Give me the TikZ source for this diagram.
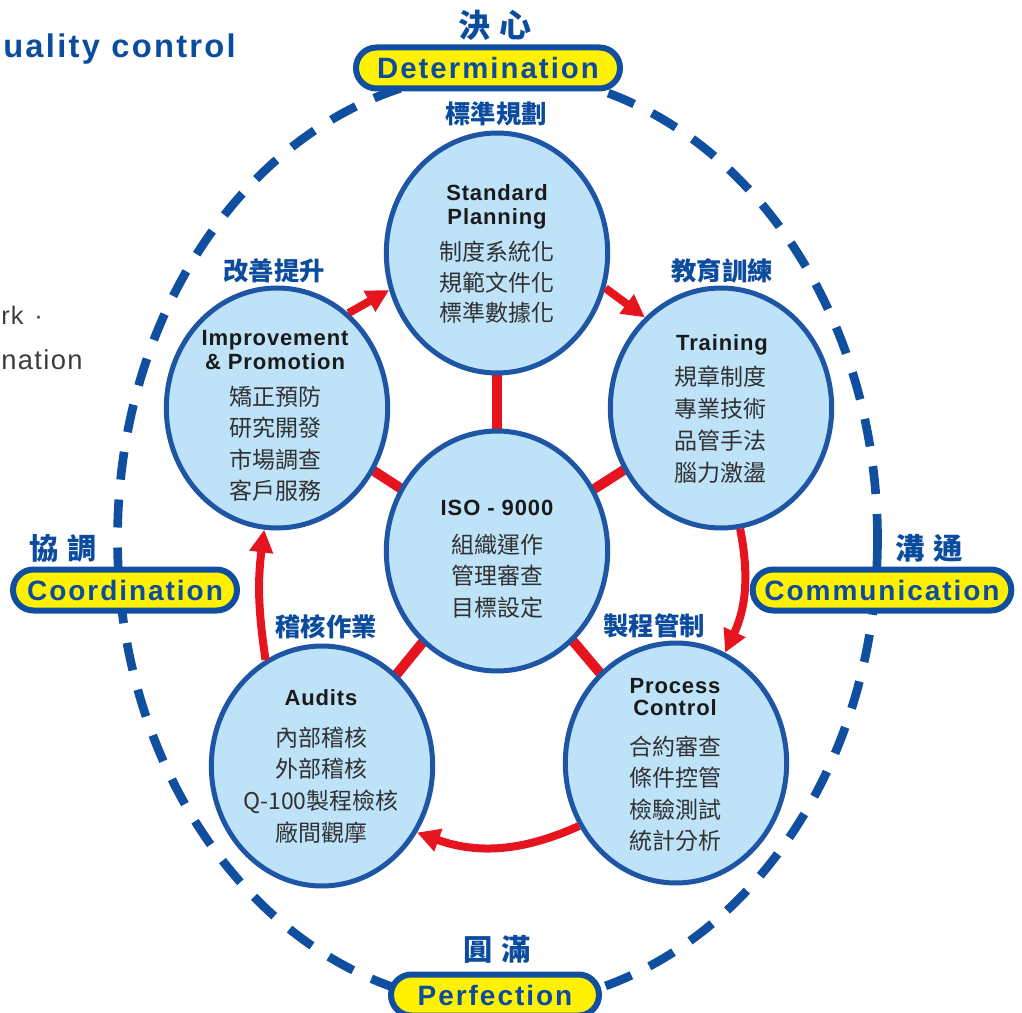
\documentclass[tikz,border=0pt]{standalone}
\usepackage{fontspec}
\setmainfont{Liberation Sans}
\newfontfamily\lsLab[LetterSpace=7]{Liberation Sans}
\newfontfamily\lsTit[LetterSpace=4]{Liberation Sans}
\newfontfamily\lsTop[LetterSpace=7]{Liberation Sans}
\newfontfamily\lsGray[LetterSpace=5]{Liberation Sans}
\newfontfamily\cjk{Noto Sans CJK TC}
\usetikzlibrary{arrows.meta,shapes.geometric,shapes.misc,backgrounds}
\definecolor{cfill}{RGB}{190,226,248}
\definecolor{cblue}{RGB}{31,85,165}
\definecolor{cred}{RGB}{230,20,30}
\definecolor{dblue}{RGB}{16,78,160}
\definecolor{lblue}{RGB}{12,76,158}
\definecolor{cyel}{RGB}{255,241,0}
\definecolor{ctext}{RGB}{26,26,26}
\definecolor{cgray}{RGB}{60,60,60}
\tikzset{
  circ/.style={ellipse, draw=cblue, line width=3.75pt, fill=cfill,
    minimum width=166pt, minimum height=180pt, inner sep=0pt},
  rline/.style={draw=cred, line width=7.5pt},
  rarr/.style={draw=cred, line width=6pt, -{Triangle[length=17pt,width=17pt]}},
  dashring/.style={draw=dblue, line width=6.5pt, dash pattern=on 21pt off 15pt},
  lbox/.style={rounded rectangle, draw=dblue, line width=4.5pt, fill=cyel,
    minimum height=30.75pt, inner sep=0pt, text=lblue,
    font=\lsLab\bfseries\fontsize{21}{21}\selectfont},
  en/.style={inner sep=0pt, text=ctext, text height=11.8pt, text depth=0pt,
    font=\lsTit\bfseries\fontsize{16.5}{16.5}\selectfont},
  cj/.style={inner sep=0pt, text=ctext!90, text height=13pt, text depth=0pt,
    font=\cjk\fontsize{17.25}{17.25}\selectfont},
  hd/.style={inner sep=0pt, text=lblue, text height=14.4pt, text depth=0pt,
    font=\cjk\bfseries\fontsize{19}{19}\selectfont},
  hdbig/.style={inner sep=0pt, text=lblue, text height=16.7pt, text depth=0pt,
    font=\cjk\bfseries\fontsize{22}{22}\selectfont},
}
\begin{document}
\begin{tikzpicture}[x=0.75pt,y=-0.75pt]
\useasboundingbox (0,0) rectangle (1022,1013);
\clip (0,0) rectangle (1022,1013);

% outer dashed ring
\draw[dashring] (497.5,539) ellipse [x radius=380, y radius=466];

% circles
\node[circ] (sp)  at (497,253) {};
\node[circ] (tr)  at (721,408) {};
\node[circ] (imp) at (277,408) {};
\node[circ] (iso) at (497,551) {};
\node[circ] (au)  at (322,766) {};
\node[circ] (pc)  at (676,763) {};

% radial red links
\begin{scope}[on background layer]
  \draw[rline] (iso.center) -- (sp.center);
  \draw[rline] (iso.center) -- (tr.center);
  \draw[rline] (iso.center) -- (imp.center);
  \draw[rline] (iso.center) -- (au.center);
  \draw[rline] (iso.center) -- (pc.center);
\end{scope}

% cycle arrows
\draw[rarr] (imp.53) -- (sp.199);
\draw[rarr] (sp.342) -- (tr.130);
\draw[rarr] (tr.279) to[bend left=18] (pc.66);
\draw[rarr] (pc.213) to[bend left=22] (au.325);
\draw[rarr] (au.118) to[bend left=8] (imp.264);

% circle texts
\node[en] (spa) at (497,193) {Standard};
\node[en] (spb) at (497,217) {Planning};
\node[cj] (spc) at (497,252) {制度系統化};
\node[cj] (spd) at (497,283) {規範文件化};
\node[cj] (spe) at (497,313) {標準數據化};

\node[en] (tra) at (722,343) {Training};
\node[cj] (trb) at (720,377) {規章制度};
\node[cj] (trc) at (720,409) {專業技術};
\node[cj] (trd) at (720,441) {品管手法};
\node[cj] (tre) at (720,473) {腦力激盪};

\node[en] (ima) at (275,338) {Improvement};
\node[en] (imb) at (275,362) {\& Promotion};
\node[cj] (imc) at (275,397) {矯正預防};
\node[cj] (imd) at (275,428) {研究開發};
\node[cj] (ime) at (275,460) {市場調查};
\node[cj] (imf) at (275,491) {客戶服務};

\node[en] (isa) at (497,508) {ISO - 9000};
\node[cj] (isb) at (497,545) {組織運作};
\node[cj] (isc) at (497,576) {管理審查};
\node[cj] (isd) at (497,608) {目標設定};

\node[en] (aua) at (321,698) {Audits};
\node[cj] (aub) at (321,738) {內部稽核};
\node[cj] (auc) at (321,769) {外部稽核};
\node[cj] (aud) at (321,801) {Q-100製程檢核};
\node[cj] (aue) at (321,833) {廠間觀摩};

\node[en] (pca) at (675,686) {Process};
\node[en] (pcb) at (675,708) {Control};
\node[cj] (pcc) at (675,747) {合約審查};
\node[cj] (pcd) at (675,778) {條件控管};
\node[cj] (pce) at (675,810) {檢驗測試};
\node[cj] (pcf) at (675,841) {統計分析};

% headings
\node[hd] (h1) at (496,114) {標準規劃};
\node[hd] (h2) at (274,271) {改善提升};
\node[hd] (h3) at (722,271) {教育訓練};
\node[hd] (h4) at (326,627) {稽核作業};
\node[hd] (h5) at (654,626) {製程管制};
\node[hdbig,font=\cjk\bfseries\fontsize{24}{24}\selectfont,text height=18.2pt] (g1) at (495,25) {決\kern7pt 心};
\node[hdbig] (g2) at (63,548) {協\kern7pt 調};
\node[hdbig] (g3) at (929,548) {溝\kern7pt 通};
\node[hdbig] (g4) at (497,949) {圓\kern7pt 滿};

% label boxes
\node[lbox, minimum width=198pt, font=\lsLab\bfseries\fontsize{22}{22}\selectfont] (det) at (488,68) {Determination};
\node[lbox, minimum width=168pt] (coo) at (125,590) {Coordination};
\node[lbox, minimum width=194pt] (com) at (882,590) {Communication};
\node[lbox, minimum width=156pt] (per) at (495,995) {Perfection};

% cropped fragments of surrounding text
\node[anchor=base west, inner sep=0pt, text=lblue,
  font=\lsTop\bfseries\fontsize{24.5}{24.5}\selectfont] (frag1) at (3,58) {uality control};
\node[anchor=base west, inner sep=0pt, text=cgray,
  font=\lsGray\fontsize{19}{19}\selectfont] (frag2) at (1,325) {rk\hspace{8pt}·};
\node[anchor=base west, inner sep=0pt, text=cgray,
  font=\lsGray\fontsize{20.5}{20.5}\selectfont] (frag3) at (1,369) {nation};
\end{tikzpicture}
\end{document}
